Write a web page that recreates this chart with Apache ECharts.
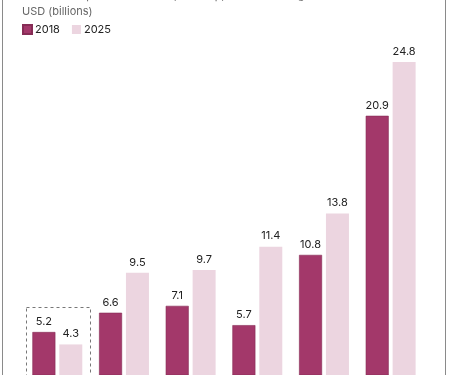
<!DOCTYPE html>
<html>
<head>
<meta charset="utf-8">
<script src="https://cdn.jsdelivr.net/npm/echarts@6/dist/echarts.min.js"></script>
<style>
  html, body { margin: 0; padding: 0; background: #fff; }
  #chart { width: 450px; height: 375px; }
</style>
</head>
<body>
<div id="chart"></div>
<script>
// categories are cut off in the picture, names are a best guess
var categories = ['Japan', 'China', 'United States', 'South Korea', 'Germany', 'France'];
var values2018 = [5.2, 6.6, 7.1, 5.7, 10.8, 20.9];
var values2025 = [4.3, 9.5, 9.7, 11.4, 13.8, 24.8];

var myChart = echarts.init(document.getElementById('chart'));

var labelStyle = {
  show: true,
  position: 'top',
  distance: 5,
  fontFamily: 'Inter',
  fontSize: 11,
  color: '#222'
};

var option = {
  animation: false,
  textStyle: { fontFamily: 'Inter' },
  title: {
    text: 'Domestic exports of skincare, makeup, haircare & fragrance\nUSD (billions)',
    left: 22,
    top: -12,
    padding: 0,
    textStyle: {
      fontFamily: 'Inter',
      fontSize: 11,
      fontWeight: 'normal',
      lineHeight: 16,
      color: '#666'
    }
  },
  legend: {
    left: 22,
    top: 24,
    icon: 'rect',
    itemWidth: 9,
    itemHeight: 9,
    itemGap: 12,
    padding: 0,
    textStyle: { fontFamily: 'Inter', fontSize: 11, color: '#222', padding: [0, 0, 0, -2] }
  },
  grid: {
    left: 24,
    right: 26,
    top: 18,
    bottom: 0
  },
  xAxis: {
    type: 'category',
    data: categories,
    axisLine: { show: false },
    axisTick: { show: false },
    axisLabel: { show: false }
  },
  // the baseline sits below the picture, so the visible axis starts a little above zero
  yAxis: {
    type: 'value',
    min: 2.08,
    max: 28,
    show: false,
    splitLine: { show: false }
  },
  series: [
    {
      name: '2018',
      type: 'bar',
      data: values2018,
      barWidth: 23,
      barGap: '17%',
      itemStyle: { color: '#a3386a', borderColor: '#862c55', borderWidth: 0.6 },
      label: labelStyle
    },
    {
      name: '2025',
      type: 'bar',
      data: values2025,
      barWidth: 23,
      itemStyle: { color: '#ecd5e0' },
      label: labelStyle
    }
  ],
  graphic: [
    {
      type: 'rect',
      silent: true,
      shape: { x: 2.5, y: -10, width: 443, height: 400 },
      style: { fill: 'none', stroke: '#8a8a8a', lineWidth: 1 }
    },
    {
      type: 'rect',
      silent: true,
      shape: { x: 26.5, y: 307.5, width: 64, height: 100 },
      style: { fill: 'none', stroke: '#777', lineWidth: 1, lineDash: [3, 3] }
    }
  ]
};

myChart.setOption(option);
</script>
</body>
</html>
